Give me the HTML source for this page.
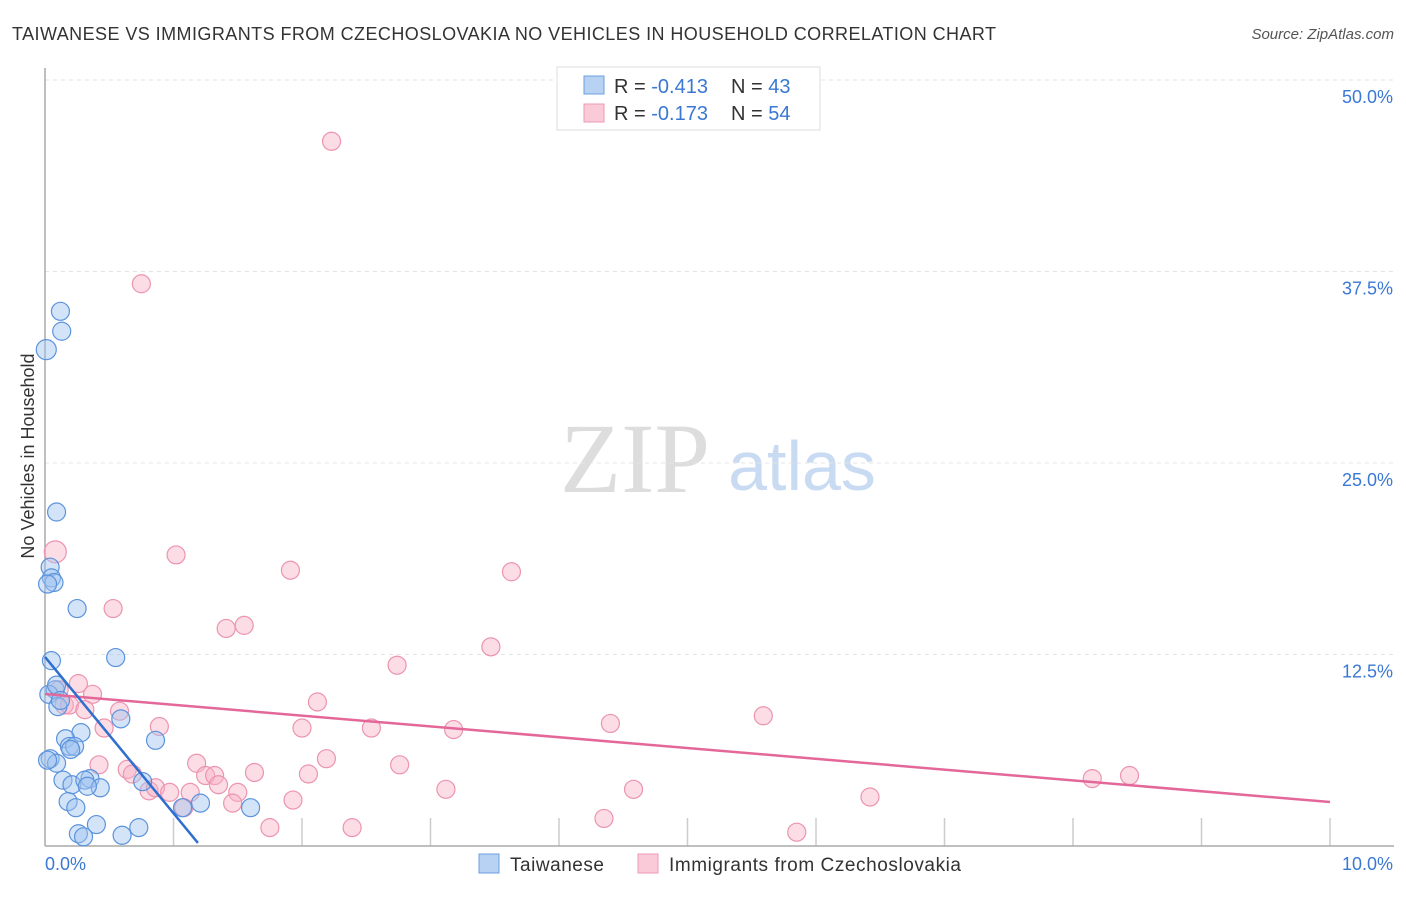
<!DOCTYPE html>
<html><head><meta charset="utf-8"><style>
body{margin:0;background:#fff;font-family:"Liberation Sans",sans-serif}
</style></head><body>
<svg width="1406" height="892" xmlns="http://www.w3.org/2000/svg">
<text x="12" y="40" font-size="18" fill="#333" textLength="984" lengthAdjust="spacing">TAIWANESE VS IMMIGRANTS FROM CZECHOSLOVAKIA NO VEHICLES IN HOUSEHOLD CORRELATION CHART</text>
<text x="1394" y="39" font-size="15" fill="#555" font-style="italic" text-anchor="end">Source: ZipAtlas.com</text>
<text x="635" y="492" font-size="100" fill="#ddd" font-family="Liberation Serif,serif" text-anchor="middle">ZIP</text>
<text x="802" y="490" font-size="70" fill="#c9dbf2" text-anchor="middle">atlas</text>
<g id="grid"></g>
<g id="marks"></g>
<text transform="translate(34,456) rotate(-90)" font-size="18" fill="#333" text-anchor="middle">No Vehicles in Household</text>
<text x="45" y="870" font-size="18" fill="#3a78d4">0.0%</text>
<text x="1393" y="870" font-size="18" fill="#3a78d4" text-anchor="end">10.0%</text>
<g>
<rect x="557" y="67" width="263" height="63" fill="#fff" stroke="#ddd"/>
<rect x="584" y="76" width="20" height="18" fill="#b8d2f4" stroke="#6c9ee0"/>
<rect x="584" y="104" width="20" height="18" fill="#fbcad8" stroke="#ee9ab4"/>
<text x="614" y="93" font-size="20" fill="#333">R = <tspan fill="#3a78d4">-0.413</tspan><tspan x="731">N = </tspan><tspan fill="#3a78d4">43</tspan></text>
<text x="614" y="120" font-size="20" fill="#333">R = <tspan fill="#3a78d4"> -0.173</tspan><tspan x="731">N = </tspan><tspan fill="#3a78d4">54</tspan></text>
</g>
<g>
<rect x="479" y="854" width="20" height="19" fill="#b8d2f4" stroke="#6c9ee0"/>
<text x="510" y="871" font-size="19" fill="#333" textLength="94">Taiwanese</text>
<rect x="638" y="854" width="20" height="19" fill="#fbcad8" stroke="#ee9ab4"/>
<text x="669" y="871" font-size="19" fill="#333" textLength="292">Immigrants from Czechoslovakia</text>
</g>
</svg>
<script>
const yTicks=[12.5,25,37.5,50];
const yTickLabels=["12.5%","25.0%","37.5%","50.0%"];
const xTicks=[1,2,3,4,5,6,7,8,9,10];
const blueX=[0.01,0.12,0.13,0.09,0.04,0.05,0.07,0.02,0.25,0.55,0.05,0.08,0.03,0.1,0.59,0.28,0.16,0.86,0.19,0.23,0.2,0.04,0.09,0.35,0.14,0.21,0.31,0.76,0.43,0.18,0.24,1.07,1.21,1.6,0.4,0.73,0.26,0.3,0.6,0.09,0.02,0.12,0.33];
const blueY=[32.4,34.9,33.6,21.8,18.2,17.5,17.2,17.1,15.5,12.3,12.1,10.2,9.9,9.1,8.3,7.4,7.0,6.9,6.5,6.5,6.3,5.7,5.4,4.4,4.3,4.0,4.3,4.2,3.8,2.9,2.5,2.5,2.8,2.5,1.4,1.2,0.8,0.6,0.7,10.5,5.6,9.5,3.9];
const pinkX=[2.23,0.75,0.08,1.02,1.91,3.63,0.53,1.55,1.41,3.47,2.74,0.26,0.37,0.11,0.15,0.19,0.31,2.12,0.58,0.46,0.89,2.0,2.54,3.18,4.4,5.59,2.19,1.18,1.63,2.76,0.64,0.68,0.42,1.25,1.32,1.35,2.05,3.12,4.58,0.81,0.86,0.97,1.13,1.5,1.46,1.93,6.42,8.15,8.44,1.08,4.35,1.75,2.39,5.85];
const pinkY=[46.0,36.7,19.2,19.0,18.0,17.9,15.5,14.4,14.2,13.0,11.8,10.6,9.9,10.2,9.2,9.2,8.9,9.4,8.8,7.7,7.8,7.7,7.7,7.6,8.0,8.5,5.7,5.4,4.8,5.3,5.0,4.7,5.3,4.6,4.6,4.0,4.7,3.7,3.7,3.6,3.8,3.5,3.5,3.5,2.8,3.0,3.2,4.4,4.6,2.5,1.8,1.2,1.2,0.9];
const blueBig=[0];
const pinkBig=[2];
const blueTrend=[[0,12.34],[1.19,0.2]];
const pinkTrend=[[0,9.92],[10,2.87]];
const X0=45,X1=1330,Y0=846,Y1=80;
const sx=v=>X0+(X1-X0)*v/10;
const sy=v=>Y0-(Y0-Y1)*v/50;
const NS="http://www.w3.org/2000/svg";
function mk(t,a,p){const e=document.createElementNS(NS,t);for(const k in a)e.setAttribute(k,a[k]);p.appendChild(e);return e;}
const grid=document.getElementById('grid'),marks=document.getElementById('marks');
yTicks.forEach((t,i)=>{
 const l=mk('line',{x1:X0,x2:1394,y1:sy(t),y2:sy(t),stroke:'#e4e4e4','stroke-dasharray':'4,4'},grid);
 
 
 const tx=mk('text',{x:1393,y:sy(t)+23,'font-size':18,fill:'#3a78d4','text-anchor':'end'},grid);
 tx.textContent=yTickLabels[i];
 
 
});
xTicks.forEach(t=>{
 const l=mk('line',{x1:sx(t),x2:sx(t),y1:Y0-28,y2:Y0,stroke:'#ccc','stroke-width':1.5},grid);
 
 
});
const ya=mk('line',{x1:X0,x2:X0,y1:68,y2:Y0,stroke:'#aaa','stroke-width':1.5},grid);


const xa=mk('line',{x1:X0,x2:1394,y1:Y0,y2:Y0,stroke:'#aaa','stroke-width':1.5},grid);


pinkX.forEach((v,i)=>{
 const c=mk('circle',{cx:sx(v),cy:sy(pinkY[i]),r:pinkBig.includes(i)?11:9,fill:'rgba(248,178,198,0.45)',stroke:'#ec94b0','stroke-width':1.2},marks);
 
 
});
blueX.forEach((v,i)=>{
 const c=mk('circle',{cx:sx(v),cy:sy(blueY[i]),r:blueBig.includes(i)?10:9,fill:'rgba(160,195,240,0.45)',stroke:'#5b93dc','stroke-width':1.2},marks);
 
 
});
const pl=mk('line',{x1:sx(pinkTrend[0][0]),y1:sy(pinkTrend[0][1]),x2:sx(pinkTrend[1][0]),y2:sy(pinkTrend[1][1]),stroke:'#e4679a','stroke-width':2.5},marks);


const bl=mk('line',{x1:sx(blueTrend[0][0]),y1:sy(blueTrend[0][1]),x2:sx(blueTrend[1][0]),y2:sy(blueTrend[1][1]),stroke:'#2f6fd0','stroke-width':2.5},marks);


</script>
</body></html>
